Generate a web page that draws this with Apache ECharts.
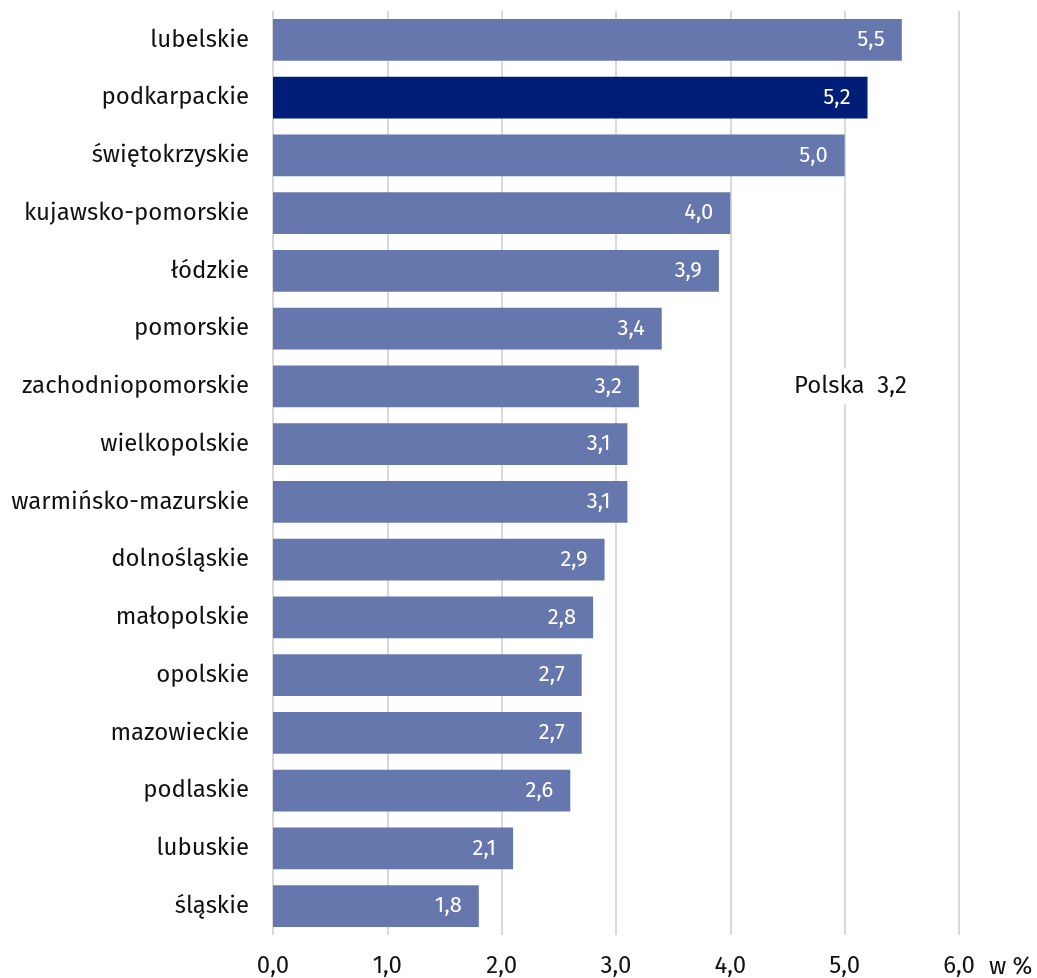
<!DOCTYPE html>
<html>
<head>
<meta charset="utf-8">
<script src="https://cdn.jsdelivr.net/npm/echarts@6/dist/echarts.min.js"></script>
<style>html,body{margin:0;padding:0;background:#fff}#c{width:1037px;height:978px}</style>
</head>
<body>
<div id="c"></div>
<script>
const categories = ['lubelskie','podkarpackie','świętokrzyskie','kujawsko-pomorskie','łódzkie','pomorskie','zachodniopomorskie','wielkopolskie','warmińsko-mazurskie','dolnośląskie','małopolskie','opolskie','mazowieckie','podlaskie','lubuskie','śląskie'];
const values = [5.5,5.2,5.0,4.0,3.9,3.4,3.2,3.1,3.1,2.9,2.8,2.7,2.7,2.6,2.1,1.8];
const highlighted = 'podkarpackie';
const polskaValue = 3.2;
const polskaLabel = 'Polska';
const polskaRow = 'zachodniopomorskie';
const polskaX = 5.05;
const xTicks = [0,1,2,3,4,5,6];
const unitLabel = 'w %';

const FONT = 'Fira Sans, Noto Sans, sans-serif';
const fmt = v => v.toFixed(1).replace('.', ',');
const chart = echarts.init(document.getElementById('c'));
chart.setOption({
  animation: false,
  grid: {left: 273, right: 78, top: 11, bottom: 41, containLabel: false},
  xAxis: {
    type: 'value', min: xTicks[0], max: xTicks[xTicks.length-1], interval: 1,
    axisLine: {show: false}, axisTick: {show: false},
    splitLine: {show: true, lineStyle: {color: '#d9d9d9', width: 2}},
    axisLabel: {formatter: v => fmt(v), fontFamily: FONT, fontSize: 24, color: '#111', margin: 19}
  },
  yAxis: {
    type: 'category', data: categories, inverse: true,
    axisLine: {show: false}, axisTick: {show: false},
    axisLabel: {fontFamily: FONT, fontSize: 24, color: '#111', margin: 24}
  },
  graphic: [{
    type: 'text', left: 989, top: 955,
    style: {text: unitLabel, fontFamily: FONT, fontSize: 24, fill: '#111'}
  }],
  series: [{
    type: 'bar', barWidth: '72%',
    data: values.map((v, i) => ({value: v, itemStyle: {color: categories[i] === highlighted ? '#001e78' : '#6677ad'}})),
    label: {show: true, position: 'insideRight', distance: 17, formatter: p => fmt(p.value), color: '#fff', fontFamily: FONT, fontSize: 22},
    markPoint: {
      symbol: 'circle', symbolSize: 0,
      data: [{coord: [polskaX, polskaRow], value: polskaValue}],
      label: {show: true, position: 'inside', formatter: p => polskaLabel + '  ' + fmt(p.value), color: '#111', fontFamily: FONT, fontSize: 24, backgroundColor: '#fff', padding: [6, 4]}
    }
  }]
});
</script>
</body>
</html>
